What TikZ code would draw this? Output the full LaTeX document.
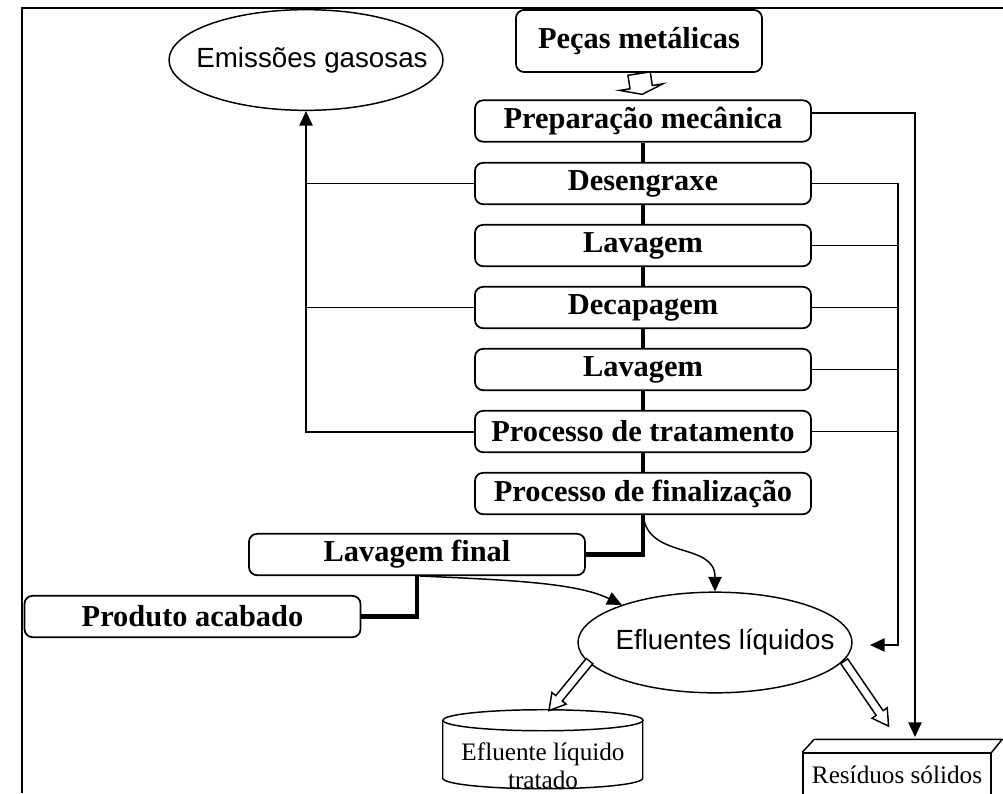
\documentclass[tikz,border=0pt]{standalone}
\usepackage{fontspec}
\setmainfont{Liberation Serif}
\newfontfamily\arialfont{Liberation Sans}
\usetikzlibrary{arrows.meta,positioning,calc,shapes.geometric,shapes.arrows}
\tikzset{stage/.style={draw,line width=1.3pt,rounded corners=6pt,minimum width=252pt,
    minimum height=31pt,inner sep=0pt,font=\fontsize{22.8}{26}\selectfont\bfseries},
  outlet/.style={ellipse,draw,line width=1.1pt,minimum width=205.5pt,minimum height=75.5pt,
    inner xsep=-20pt,inner ysep=0pt,font=\arialfont\fontsize{20.8}{24}\selectfont},
  flow/.style={line width=3.5pt},
  pipe/.style={line width=1.1pt},
  into/.style={-{Triangle[width=10pt,length=11pt]}},
  hollow/.style={single arrow,draw,fill=white,line width=1.1pt,inner xsep=0pt,inner ysep=2.6pt,
    single arrow head extend=3.75pt,single arrow tip angle=60,sloped,allow upside down}}
\begin{document}
\begin{tikzpicture}[x=0.75pt,y=-0.75pt]
\useasboundingbox (0,0) rectangle (1003,793);
\draw[line width=1.4pt] (22,793) -- (22,8) -- (1003,8);
% process line
\node[stage,minimum width=184.5pt,minimum height=46.5pt] (pecas) at (639,41) {Peças metálicas};
\node[stage] (prep) at (643,121) {Preparação mecânica};
\node[stage] (deseng) at (643,183.5) {Desengraxe};
\node[stage] (lav1) at (643,245.5) {Lavagem};
\node[stage] (decap) at (643,307.5) {Decapagem};
\node[stage] (lav2) at (643,369.5) {Lavagem};
\node[stage] (trat) at (643,431.5) {Processo de tratamento};
\node[stage] (final) at (643,493.5) {Processo de finalização};
\node[stage] (lavf) at (417,554.5) {Lavagem final};
\node[stage] (prod) at (192.5,616.5) {Produto acabado};
% outputs
\node[outlet] (emis) at (306,60) {\hspace{9pt}Emissões gasosas};
\node[outlet] (eflu) at (715,642.5) {\hspace{15pt}Efluentes líquidos};
\node[minimum width=150pt,minimum height=58.5pt,inner sep=0pt,
  label={[font=\fontsize{18.9}{21}\selectfont,align=center,yshift=-12.75pt]center:Efluente líquido\\tratado}]
  (tank) at (543,749) {};
\draw[pipe] ($(tank.north)+(0,10.5)$) ellipse [x radius=100,y radius=10.5];
\draw[pipe] ($(tank.north west)+(0,10.5)$) -- ++(0,58) arc[start angle=180,end angle=0,
  x radius=100,y radius=10.5] -- ++(0,-58);
\node[draw,line width=1.1pt,minimum width=141pt,minimum height=33pt,inner sep=0pt,
  font=\fontsize{18.9}{22}\selectfont] (resid) at (897,775) {Resíduos sólidos};
\draw[line width=1.1pt,line join=round] (resid.north west) -- ++(12,-13) -- ++(188,0)
  -- (resid.north east) ++(12,-13) -- ++(0,60);
% main flow
\foreach \a/\b in {prep/deseng,deseng/lav1,lav1/decap,decap/lav2,lav2/trat,trat/final}
  \draw[flow] (\a) -- (\b);
\draw[flow] (final.south) |- (lavf.east);
\draw[flow] (lavf.south) |- (prod.east);
\path (pecas.south) -- node[hollow,pos=0,anchor=tail,minimum height=15.75pt,inner ysep=7.9pt,
  single arrow head extend=7.9pt,single arrow tip angle=143] {} (prep.north);
% gases
\draw[pipe,line width=1.5pt,into] (trat.west) -| (emis.south);
\foreach \n in {deseng,decap}
  \draw[pipe] (\n.west) -- (\n.west -| emis.south);
% liquids
\coordinate (lbus) at (898,645);
\coordinate (lin) at (870,645);
\draw[pipe,into] (deseng.east) -| (lbus) -- (lin);
\foreach \n in {lav1,decap,lav2,trat}
  \draw[pipe] (\n.east) -- (\n.east -| lbus);
\draw[pipe,into] (final.south) .. controls +(5,45) and +(0,-50) .. (eflu.north);
\draw[pipe,into] ($(lavf.south)+(3,0)$) .. controls +(90,4) and +(-45,-22) .. (eflu.158);
% solids
\coordinate (sin) at (915,737);
\draw[pipe,into] ($(prep.east)+(0,-8)$) -| (sin);
% treatment
\path (eflu.189) -- node[hollow,pos=1,anchor=tip,minimum height=48pt] {} ($(tank.north)+(5,2)$);
\path (eflu.-8) -- node[hollow,pos=0,anchor=tail,minimum height=59pt] {} ($(resid.north west)+(83,-31)$);
\end{tikzpicture}
\end{document}
